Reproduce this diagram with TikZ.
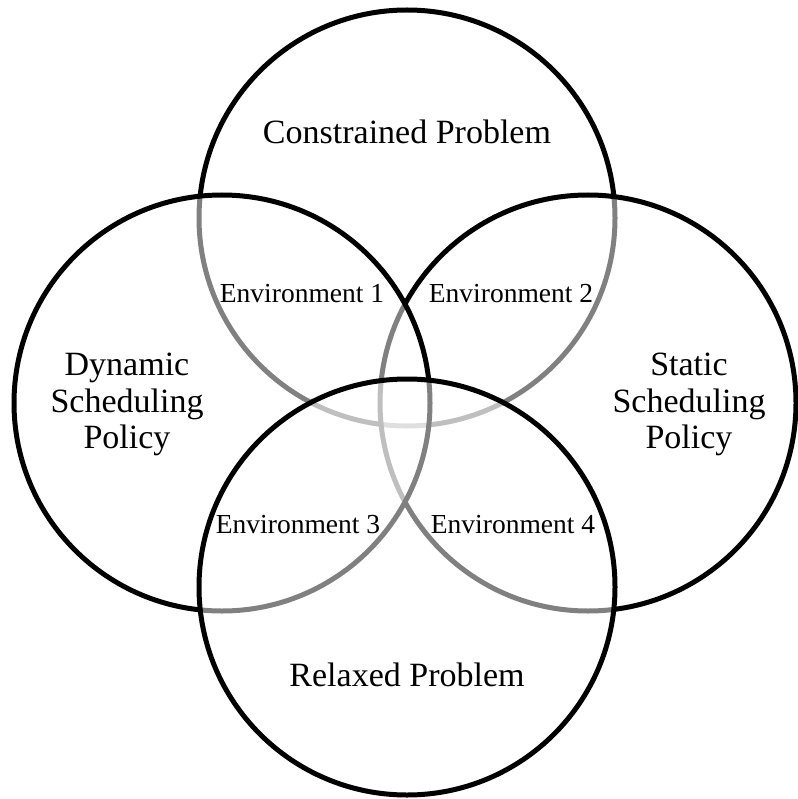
\documentclass[tikz,border=0pt]{standalone}
\usepackage{fontspec}
\setmainfont{Liberation Serif}
\begin{document}
\begin{tikzpicture}[x=1pt,y=-1pt,
  venn/.style={draw=black,line width=5pt,fill=white,fill opacity=0.5},
  bigtext/.style={anchor=base,inner sep=0pt,font=\fontsize{34}{36.5}\selectfont},
  envtext/.style={anchor=base,inner sep=0pt,font=\fontsize{27.5}{30}\selectfont}]
\useasboundingbox (0,0) rectangle (797,799);
\def\R{208}
% draw order: top, right, left, bottom
\path[venn] (407,218) circle (\R);
\path[venn] (588,403) circle (\R);
\path[venn] (222,403) circle (\R);
\path[venn] (407,587) circle (\R);
\node[bigtext] (top) at (407,144) {Constrained Problem};
\node[bigtext] (bot) at (407,686) {Relaxed Problem};
\node[bigtext] (dyn1) at (127,375) {Dynamic};
\node[bigtext] (dyn2) at (127,412) {Scheduling};
\node[bigtext] (dyn3) at (127,448) {Policy};
\node[bigtext] (sta1) at (689,375) {Static};
\node[bigtext] (sta2) at (689,412) {Scheduling};
\node[bigtext] (sta3) at (689,448) {Policy};
\node[envtext] (e1) at (302,302) {Environment 1};
\node[envtext] (e2) at (511,302) {Environment 2};
\node[envtext] (e3) at (298,533) {Environment 3};
\node[envtext] (e4) at (513,533) {Environment 4};
\end{tikzpicture}
\end{document}
